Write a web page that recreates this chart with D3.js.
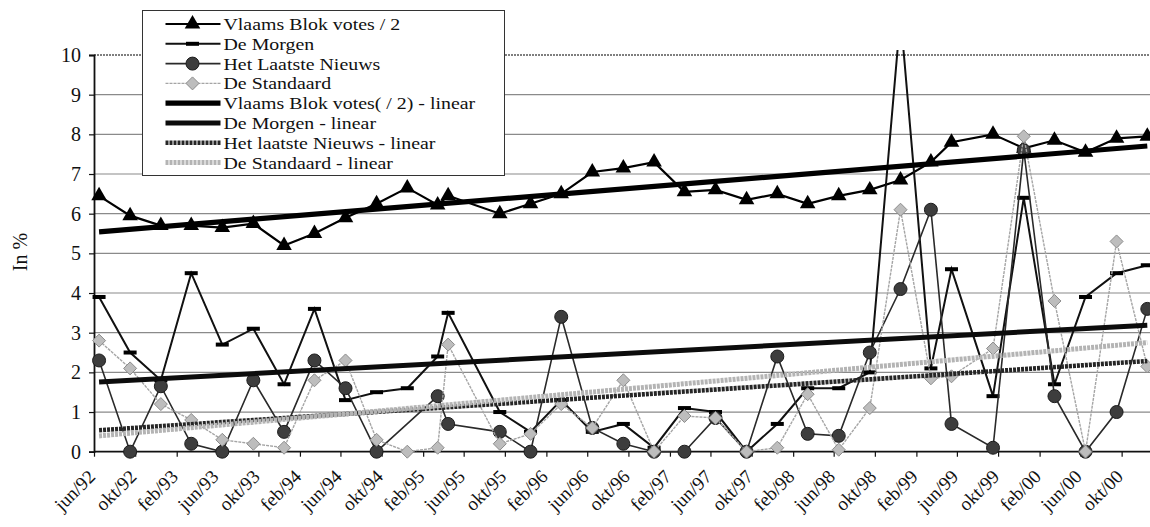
<!DOCTYPE html>
<html>
<head>
<meta charset="utf-8">
<script src="https://cdn.jsdelivr.net/npm/d3@7"></script>
<style>
  body { margin: 0; background: #fff; }
  svg { display: block; }
  svg text { font-family: "Liberation Serif", "Times New Roman", Times, serif; fill: #111; }
</style>
</head>
<body>
<svg id="chart" width="1150" height="527"></svg>
<script>
// Poll dates (year-month)
const dates = [
  "1992-06","1992-09","1992-12","1993-03","1993-06","1993-09","1993-12","1994-03",
  "1994-06","1994-09","1994-12","1995-03","1995-04","1995-09","1995-12","1996-03",
  "1996-06","1996-09","1996-12","1997-03","1997-06","1997-09","1997-12","1998-03",
  "1998-06","1998-09","1998-12","1999-03","1999-05","1999-09","1999-12","2000-03",
  "2000-06","2000-09","2000-12"
];

// Values in % (null = no figure for that date)
const vlaamsBlok = [
  6.45, 5.95, 5.7, 5.7, 5.65, 5.75, 5.2, 5.5, 5.9, 6.25, 6.65, 6.22, 6.45, 6.0, 6.25, 6.5,
  7.05, 7.15, 7.3, 6.55, 6.6, 6.35, 6.5, 6.25, 6.45, 6.6, 6.85, 7.3, 7.8, 8.0, 7.65, 7.85,
  7.55, 7.9, 7.95
];
const deMorgen = [
  3.9, 2.5, 1.8, 4.5, 2.7, 3.1, 1.7, 3.6, 1.3, 1.5, 1.6, 2.4, 3.5, 1.0, 0.5, 1.3,
  0.5, 0.7, 0.1, 1.1, 1.0, 0.0, 0.7, 1.6, 1.6, 2.0, 11.0, 2.1, 4.6, 1.4, 6.4, 1.7,
  3.9, 4.5, 4.7
];
const hetLaatsteNieuws = [
  2.3, 0.0, 1.65, 0.2, 0.0, 1.8, 0.5, 2.3, 1.6, 0.0, null, 1.4, 0.7, 0.5, 0.0, 3.4,
  0.6, 0.2, 0.0, 0.0, 0.85, 0.0, 2.4, 0.45, 0.4, 2.5, 4.1, 6.1, 0.7, 0.1, 7.6, 1.4,
  0.0, 1.0, 3.6
];
const deStandaard = [
  2.8, 2.1, 1.2, 0.8, 0.3, 0.2, 0.1, 1.8, 2.3, 0.3, 0.0, 0.1, 2.7, 0.2, 0.45, 1.2,
  0.6, 1.8, 0.0, 0.9, 0.85, 0.0, 0.1, 1.45, 0.05, 1.1, 6.1, 1.85, 1.9, 2.6, 7.95, 3.8,
  0.0, 5.3, 2.15
];

const tickLabels = [
  "jun/92","okt/92","feb/93","jun/93","okt/93","feb/94","jun/94","okt/94","feb/95",
  "jun/95","okt/95","feb/96","jun/96","okt/96","feb/97","jun/97","okt/97","feb/98",
  "jun/98","okt/98","feb/99","jun/99","okt/99","feb/00","jun/00","okt/00"
];
const yTicks = [0, 1, 2, 3, 4, 5, 6, 7, 8, 9, 10];

const seriesNames = ["Vlaams Blok votes / 2", "De Morgen", "Het Laatste Nieuws", "De Standaard"];
const trendNames = ["Vlaams Blok votes( / 2) - linear", "De Morgen - linear",
                    "Het laatste Nieuws - linear", "De Standaard - linear"];

const FONT = "'Liberation Serif', 'Times New Roman', Times, serif";

const svg = d3.select("#chart");
const W = 1150, H = 527;
const plot = { left: 94, right: 1150, top: 55, bottom: 451.7 };

svg.append("rect").attr("width", W).attr("height", H).attr("fill", "#fff");

const parseMonth = d3.timeParse("%Y-%m");
const axisStart = new Date(1992, 5, 1);
const axisEnd = new Date(2001, 0, 1);
const x = d3.scaleTime().domain([axisStart, axisEnd]).range([plot.left, plot.left + 1058.7]);
const y = d3.scaleLinear().domain([0, 10]).range([plot.bottom, plot.top]);

// points sit in the middle of their month
const pointDates = dates.map(s => d3.timeDay.offset(parseMonth(s), 15));

// horizontal gridlines
svg.append("g")
  .selectAll("line")
  .data(yTicks.filter(v => v > 0 && v < 10))
  .join("line")
  .attr("x1", plot.left).attr("x2", plot.right)
  .attr("y1", d => y(d)).attr("y2", d => y(d))
  .attr("stroke", "#8a8a8a").attr("stroke-width", 1.2);

// top border of the plot area
svg.append("line")
  .attr("x1", plot.left).attr("x2", plot.right)
  .attr("y1", y(10)).attr("y2", y(10))
  .attr("stroke", "#555").attr("stroke-width", 1.6).attr("stroke-dasharray", "2,1");

// y axis
const yAxis = d3.axisLeft(y).tickValues(yTicks).tickSize(5).tickFormat(d3.format("d"));
const gy = svg.append("g").attr("transform", `translate(${plot.left},0)`).call(yAxis)
  .attr("font-family", FONT).attr("font-size", 20);
gy.select(".domain").attr("stroke", "#111").attr("stroke-width", 1.8);
gy.selectAll(".tick line").attr("stroke", "#111").attr("stroke-width", 1.2);
gy.selectAll(".tick text")
  .attr("x", -13)
  .attr("font-family", FONT)
  .attr("font-size", 20).attr("fill", "#111");

// x axis with ticks every four months
const xTicks = d3.timeMonth.range(axisStart, new Date(2000, 10, 1), 4);
const xAxis = d3.axisBottom(x).tickValues(xTicks).tickSize(5).tickFormat((d, i) => tickLabels[i]);
const gx = svg.append("g").attr("transform", `translate(0,${plot.bottom})`).call(xAxis)
  .attr("font-family", FONT).attr("font-size", 19);
gx.select(".domain").attr("stroke", "#111").attr("stroke-width", 1.8).attr("d", `M${plot.left},0H${plot.right}`);
gx.selectAll(".tick line").attr("stroke", "#111").attr("stroke-width", 1.2);
gx.selectAll(".tick text")
  .attr("text-anchor", "end")
  .attr("dy", null).attr("y", null)
  .attr("transform", "translate(2,26) rotate(-45)")
  .attr("font-family", FONT)
  .attr("font-size", 19).attr("fill", "#111");

// y axis title
svg.append("text")
  .attr("transform", "translate(27,252) rotate(-90)")
  .attr("text-anchor", "middle")
  .attr("font-family", FONT)
  .attr("font-size", 20)
  .text("In %");

// clip everything to the plot area
svg.append("clipPath").attr("id", "plotclip")
  .append("rect").attr("x", plot.left - 10).attr("y", plot.top - 5)
  .attr("width", plot.right - plot.left + 20).attr("height", plot.bottom - plot.top + 20);

const g = svg.append("g").attr("clip-path", "url(#plotclip)");

const styles = [
  { data: vlaamsBlok,       stroke: "#000", width: 2.2, dash: null,  marker: "triangle" },
  { data: deMorgen,         stroke: "#111", width: 2.0, dash: null,  marker: "dash" },
  { data: hetLaatsteNieuws, stroke: "#2a2a2a", width: 1.6, dash: null, marker: "circle" },
  { data: deStandaard,      stroke: "#a5a5a5", width: 1.4, dash: "3,1", marker: "diamond" }
];
const trendStyles = [
  { stroke: "#000", width: 5.2, dash: null },
  { stroke: "#0c0c0c", width: 5.0, dash: null },
  { stroke: "#262626", width: 4.6, dash: "3,1" },
  { stroke: "#b4b4b4", width: 5.0, dash: "3,1" }
];

const line = d3.line().x(d => x(d.date)).y(d => y(d.value));

function drawMarker(sel, type) {
  if (type === "triangle") {
    sel.append("path").attr("d", d3.symbol(d3.symbolTriangle, 105)()).attr("fill", "#000");
  } else if (type === "dash") {
    sel.append("rect").attr("x", -6.5).attr("y", -2).attr("width", 13).attr("height", 4).attr("fill", "#000");
  } else if (type === "circle") {
    sel.append("circle").attr("r", 6.5).attr("fill", "#3d3d3d").attr("stroke", "#1c1c1c").attr("stroke-width", 1);
  } else if (type === "diamond") {
    sel.append("path").attr("d", "M0,-6.5L6.5,0L0,6.5L-6.5,0Z")
      .attr("fill", "#bdbdbd").attr("stroke", "#8c8c8c").attr("stroke-width", 1);
  }
}

function points(values) {
  return values.map((v, i) => ({ date: pointDates[i], value: v })).filter(p => p.value !== null);
}

styles.forEach(s => {
  const pts = points(s.data);
  g.append("path").datum(pts)
    .attr("d", line)
    .attr("fill", "none")
    .attr("stroke", s.stroke)
    .attr("stroke-width", s.width)
    .attr("stroke-dasharray", s.dash)
    .attr("stroke-linejoin", "miter");
  const m = g.append("g").selectAll("g").data(pts.filter(p => p.value <= 10)).join("g")
    .attr("transform", d => `translate(${x(d.date)},${y(d.value)})`);
  m.each(function () { drawMarker(d3.select(this), s.marker); });
});

// least-squares trend for each series
function trend(values) {
  const pts = points(values);
  const xs = pts.map(p => +p.date), ys = pts.map(p => p.value);
  const mx = d3.mean(xs), my = d3.mean(ys);
  let num = 0, den = 0;
  xs.forEach((xv, i) => { num += (xv - mx) * (ys[i] - my); den += (xv - mx) * (xv - mx); });
  const b = num / den, a = my - b * mx;
  const x0 = +pointDates[0], x1 = +pointDates[pointDates.length - 1];
  return [{ date: new Date(x0), value: a + b * x0 }, { date: new Date(x1), value: a + b * x1 }];
}

styles.forEach((s, i) => {
  const t = trendStyles[i];
  g.append("path").datum(trend(s.data))
    .attr("d", line)
    .attr("fill", "none")
    .attr("stroke", t.stroke)
    .attr("stroke-width", t.width)
    .attr("stroke-dasharray", t.dash);
});

// legend
const rowH = 19.8, row0 = 13.5;
const legend = svg.append("g").attr("transform", "translate(142.5,10.5)");
legend.append("rect").attr("width", 362).attr("height", 165)
  .attr("fill", "#fff").attr("stroke", "#333").attr("stroke-width", 1);

const legendRows = seriesNames.map((n, i) => ({ name: n, kind: "series", i }))
  .concat(trendNames.map((n, i) => ({ name: n, kind: "trend", i })));

legendRows.forEach((r, k) => {
  const row = legend.append("g").attr("transform", `translate(0,${row0 + k * rowH})`);
  const st = r.kind === "series" ? styles[r.i] : trendStyles[r.i];
  row.append("line").attr("x1", 23).attr("x2", 78).attr("y1", 0).attr("y2", 0)
    .attr("stroke", st.stroke).attr("stroke-width", st.width).attr("stroke-dasharray", st.dash);
  if (r.kind === "series") {
    const mk = row.append("g").attr("transform", "translate(50,0)");
    drawMarker(mk, st.marker);
  }
  row.append("text")
    .attr("transform", "translate(81,6) scale(1.13,1)")
    .attr("font-family", FONT)
    .attr("font-size", 17.6).text(r.name);
});
</script>
</body>
</html>
